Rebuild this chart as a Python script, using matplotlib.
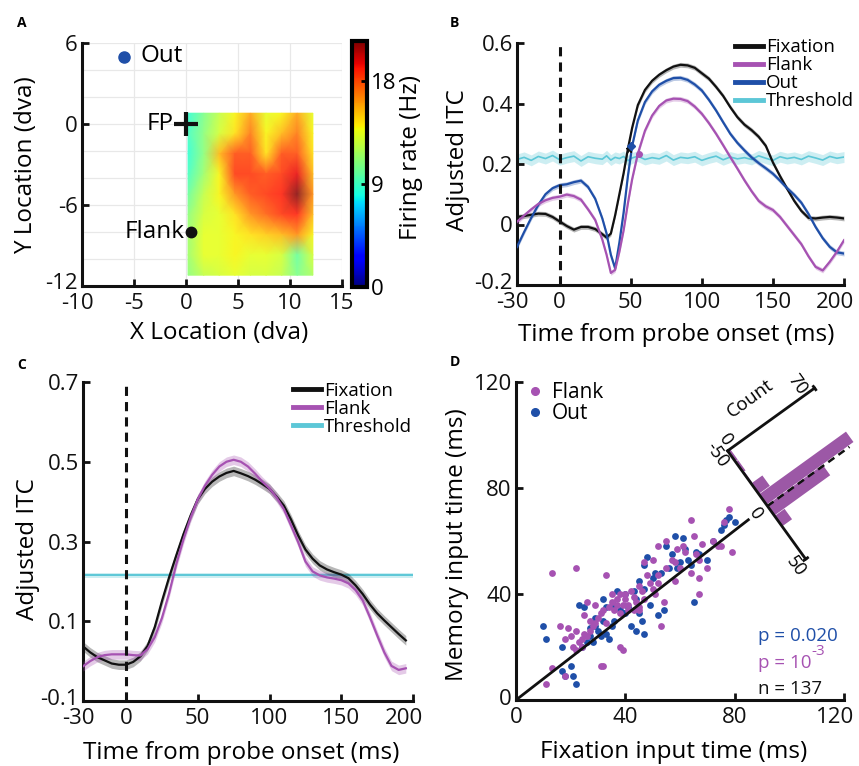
import numpy as np
import matplotlib.pyplot as plt
from matplotlib.cm import ScalarMappable
from matplotlib.colors import Normalize, ListedColormap
from matplotlib.lines import Line2D
from matplotlib.transforms import Affine2D, ScaledTranslation

plt.rcParams['font.family'] = ['Open Sans', 'DejaVu Sans']
plt.rcParams['axes.unicode_minus'] = False

BLACK = '#111111'
MAGENTA = '#A652B2'
BLUE = '#1F4FA8'
CYAN = '#5CC7D7'
HIST = '#9C58A6'

# ---- panel A: firing-rate map ----
heat_x = [0.2, 1.7, 3.2, 4.7, 6.2, 7.7, 9.2, 10.7, 12.2]
heat_y = [0.8, -0.7, -2.2, -3.7, -5.2, -6.7, -8.2, -9.7, -11.2]
firing_rate = [
    [8.5, 10.5, 12.5, 14.0, 16.0, 13.5, 14.0, 16.0, 13.5],
    [9.0, 11.0, 13.0, 14.5, 17.0, 14.0, 15.5, 17.0, 14.0],
    [8.5, 11.0, 15.5, 18.0, 18.0, 14.5, 18.0, 18.0, 14.5],
    [9.0, 11.5, 14.0, 18.5, 18.5, 18.0, 18.5, 19.5, 15.5],
    [10.0, 12.5, 14.0, 16.5, 18.0, 18.5, 19.0, 21.5, 16.5],
    [11.0, 13.0, 13.5, 14.5, 16.5, 17.5, 18.5, 19.0, 15.5],
    [11.5, 13.5, 13.5, 14.0, 14.5, 15.0, 15.5, 16.5, 14.0],
    [11.5, 13.5, 13.5, 14.0, 13.5, 13.5, 13.0, 10.0, 13.0],
    [11.0, 12.5, 13.0, 13.5, 13.0, 13.0, 12.5, 10.5, 12.0],
]
rate_max = 21.5
out_loc = (-6, 5)
fp_loc = (0, 0)
flank_loc = (0.5, -8)

# ---- panel B: adjusted ITC, one neuron ----
t_b = [-30, -25, -20, -15, -10, -5, 0, 5, 10, 15, 20, 25, 30,
       33, 36, 39, 42, 45, 48, 51, 55,
       60, 65, 70, 75, 80, 85, 90, 95, 100, 105, 110, 115, 120, 125, 130,
       135, 140, 145, 150, 155, 160, 165, 170, 175, 180, 185, 190, 195, 200]
itc_fix_b = [0.025, 0.028, 0.032, 0.036, 0.035, 0.025, 0.010, -0.005, -0.017, -0.008, -0.008, -0.015, -0.032,
             -0.043, -0.030, 0.030, 0.100, 0.170, 0.250, 0.320, 0.395,
             0.445, 0.475, 0.495, 0.510, 0.522, 0.528, 0.526, 0.518, 0.500, 0.482, 0.455, 0.425, 0.388, 0.355,
             0.330, 0.312, 0.290, 0.260, 0.205, 0.160, 0.118, 0.078, 0.045, 0.022, 0.020, 0.023, 0.025, 0.023, 0.020]
itc_flank_b = [0.009, 0.030, 0.050, 0.068, 0.080, 0.088, 0.092, 0.099, 0.094, 0.082, 0.050, 0.015, -0.050,
               -0.100, -0.160, -0.150, -0.090, -0.019, 0.070, 0.150, 0.234,
               0.310, 0.360, 0.392, 0.410, 0.416, 0.415, 0.408, 0.390, 0.366, 0.335, 0.300, 0.262, 0.223, 0.185,
               0.146, 0.110, 0.078, 0.060, 0.048, 0.025, -0.005, -0.035, -0.065, -0.105, -0.140, -0.152, -0.123, -0.090, -0.052]
itc_out_b = [-0.074, -0.025, 0.022, 0.065, 0.100, 0.120, 0.130, 0.133, 0.140, 0.145, 0.124, 0.085, 0.020,
             -0.030, -0.100, -0.145, -0.060, 0.040, 0.160, 0.260, 0.344,
             0.405, 0.440, 0.462, 0.475, 0.484, 0.485, 0.478, 0.463, 0.443, 0.412, 0.377, 0.338, 0.300, 0.270,
             0.245, 0.222, 0.203, 0.186, 0.168, 0.145, 0.120, 0.098, 0.072, 0.035, -0.008, -0.045, -0.074, -0.092, -0.096]
thresh_b = [0.215, 0.222, 0.212, 0.225, 0.218, 0.228, 0.214, 0.221, 0.226, 0.210, 0.224, 0.219, 0.216,
            0.227, 0.213, 0.222, 0.218, 0.225, 0.211, 0.220, 0.226,
            0.215, 0.221, 0.217, 0.228, 0.213, 0.222, 0.219, 0.224, 0.212, 0.220, 0.226, 0.214, 0.223, 0.217,
            0.221, 0.215, 0.227, 0.219, 0.212, 0.224, 0.218, 0.222, 0.215, 0.226, 0.220, 0.213, 0.225, 0.219, 0.223]
latency_b = {'fix': (49, 0.250), 'out': (50.5, 0.258), 'flank': (56, 0.232)}

# ---- panel C: population adjusted ITC ----
t_c = list(range(-30, 200, 5))
itc_fix_c = [0.037, 0.022, 0.010, 0.002, -0.006, -0.009, -0.009, -0.002, 0.012, 0.038,
             0.085, 0.150, 0.210, 0.265, 0.318, 0.365, 0.406, 0.432, 0.450, 0.463,
             0.472, 0.477, 0.471, 0.464, 0.455, 0.444, 0.432, 0.412, 0.390, 0.355,
             0.315, 0.280, 0.257, 0.240, 0.230, 0.223, 0.217, 0.208, 0.190, 0.168,
             0.142, 0.120, 0.102, 0.085, 0.068, 0.052]
itc_flank_c = [-0.013, 0.000, 0.010, 0.015, 0.017, 0.017, 0.017, 0.015, 0.014, 0.030,
               0.060, 0.108, 0.170, 0.243, 0.305, 0.360, 0.406, 0.440, 0.467, 0.488,
               0.500, 0.505, 0.500, 0.488, 0.470, 0.450, 0.433, 0.410, 0.381, 0.340,
               0.298, 0.250, 0.225, 0.215, 0.210, 0.207, 0.203, 0.195, 0.178, 0.152,
               0.110, 0.065, 0.022, -0.012, -0.022, -0.018]
thresh_c = 0.215

# ---- panel D: input times ----
flank_fix = [11, 13, 18, 16, 13, 22, 18, 21, 22, 20, 23, 25, 26, 27, 28, 25, 24, 26, 27, 29,
             30, 31, 32, 33, 33, 34, 35, 35, 36, 37, 37, 38, 38, 39, 39, 40, 40, 41, 41, 42,
             43, 43, 44, 45, 45, 46, 47, 47, 48, 49, 50, 50, 51, 52, 52, 53, 54, 55, 55, 57,
             58, 59, 60, 61, 62, 64, 65, 66, 67, 67, 67, 68, 70, 72, 74, 75, 76, 78, 79, 31,
             32, 38, 29, 24, 22, 19, 45, 52, 64, 58]
flank_mem = [6, 12, 9, 28, 48, 50, 23, 20, 26, 24, 22, 32, 37, 30, 28, 25, 23, 24, 26, 29,
             31, 33, 34, 47, 29, 35, 37, 40, 34, 36, 38, 40, 33, 36, 19, 40, 38, 34, 36, 41,
             39, 34, 37, 35, 43, 41, 38, 52, 47, 44, 42, 53, 40, 47, 58, 28, 37, 50, 60, 53,
             52, 57, 50, 58, 56, 68, 62, 55, 46, 40, 53, 59, 50, 60, 58, 58, 67, 72, 56, 13,
             13, 20, 36, 20, 19, 27, 34, 44, 48, 45]
out_fix = [10, 11, 17, 17, 18, 20, 21, 22, 23, 25, 24, 26, 27, 28, 29, 30, 31, 32, 32, 33,
           34, 35, 36, 37, 38, 39, 40, 41, 42, 43, 44, 45, 45, 46, 47, 47, 48, 49, 50, 51,
           52, 53, 54, 55, 56, 57, 58, 59, 60, 61, 62, 63, 64, 65, 66, 67, 70, 72, 75, 76,
           77, 78, 80, 44, 40, 36, 33, 29, 27, 47]
out_mem = [28, 23, 20, 11, 9, 13, 9, 6, 36, 35, 20, 22, 24, 22, 28, 26, 24, 38, 30, 25,
           23, 28, 30, 41, 34, 33, 40, 35, 28, 41, 38, 45, 33, 30, 42, 51, 54, 36, 46, 48,
           32, 48, 34, 58, 50, 55, 62, 50, 52, 61, 57, 53, 51, 37, 56, 55, 53, 60, 64, 66,
           68, 69, 67, 26, 33, 36, 35, 31, 27, 25]
fit_x = [0, 85]
fit_slope = 0.8
diff_centers = [-45, -35, -25, -15, -5, 5, 15]
diff_counts = [2, 2, 1, 9, 70, 45, 8]
diff_mean = 1
stats_text = [('p = 0.020', BLUE), ('n = 137', BLACK)]

FS = 17.5   # axis labels
TS = 16     # tick labels

W, H = 859, 766
fig = plt.figure(figsize=(W / 100, H / 100), dpi=100)


def box(l, t, r, b):
    return [l / W, 1 - b / H, (r - l) / W, (b - t) / H]


def style(ax):
    ax.spines[['top', 'right']].set_visible(False)
    for s in ('left', 'bottom'):
        ax.spines[s].set_linewidth(2.2)
        ax.spines[s].set_color(BLACK)
    ax.tick_params(direction='in', length=5, width=2, labelsize=TS, colors=BLACK)
    ax.tick_params(axis='x', pad=5)
    ax.tick_params(axis='y', pad=3)


def nudge(lab, dx, dy):
    lab.set_transform(lab.get_transform() + ScaledTranslation(dx / 100, dy / 100, fig.dpi_scale_trans))


def labels(ax, xl, yl, xc, yc):
    ax.set_xlabel(xl, fontsize=FS, va='center')
    ax.set_ylabel(yl, fontsize=FS, va='center')
    ax.xaxis.set_label_coords(*xc)
    ax.yaxis.set_label_coords(*yc)


# slightly washed-out jet for the map itself
light_jet = ListedColormap(0.86 * plt.get_cmap('jet')(np.linspace(0, 1, 256)) + 0.14)

# ---------- A ----------
ax_a = fig.add_axes(box(82, 43, 342, 286))
X, Y = np.meshgrid(heat_x, heat_y)
ax_a.pcolormesh(X, Y, np.array(firing_rate), shading='gouraud', cmap=light_jet,
                vmin=0, vmax=rate_max, zorder=2)
ax_a.set_xlim(-10, 15)
ax_a.set_ylim(-12, 6)
ax_a.set_xticks([-10, -5, 0, 5, 10, 15])
ax_a.set_yticks([-12, -6, 0, 6])
ax_a.set_yticks(np.arange(-12, 7, 2), minor=True)
ax_a.grid(True, which='both', color='#e8e8e8', lw=0.9, zorder=0)
ax_a.tick_params(which='minor', length=0)
style(ax_a)
nudge(ax_a.get_xticklabels()[0], -5, 0)
nudge(ax_a.get_yticklabels()[0], 0, 5)
ax_a.plot(*out_loc, 'o', color=BLUE, ms=8, zorder=3)
ax_a.text(out_loc[0] + 1.6, out_loc[1], 'Out', fontsize=FS, va='center', ha='left')
ax_a.plot(*fp_loc, '+', color=BLACK, ms=17, mew=3, zorder=3, clip_on=False)
ax_a.text(fp_loc[0] - 1.2, fp_loc[1], 'FP', fontsize=FS, va='center', ha='right')
ax_a.plot(*flank_loc, 'o', color=BLACK, ms=7.5, zorder=3)
ax_a.text(flank_loc[0] - 0.6, flank_loc[1], 'Flank', fontsize=FS, va='center', ha='right')
labels(ax_a, 'X Location (dva)', 'Y Location (dva)', (0.529, -0.193), (-0.215, 0.498))

cax = fig.add_axes(box(352, 41, 367, 287))
cb = fig.colorbar(ScalarMappable(Normalize(0, rate_max), 'jet'), cax=cax, ticks=[0, 9, 18])
cb.outline.set_linewidth(3)
cax.tick_params(direction='in', length=4, width=2, labelsize=TS, pad=3)
cb.set_label('Firing rate (Hz)', fontsize=FS, va='center')
cax.yaxis.set_label_coords(3.95, 0.526)

# ---------- B ----------
ax_b = fig.add_axes(box(517, 43, 844, 285))
tb = np.array(t_b)
ax_b.fill_between(tb, np.array(thresh_b) - 0.018, np.array(thresh_b) + 0.018,
                  color=CYAN, alpha=0.3, lw=0, zorder=1)
ax_b.plot(tb, thresh_b, color=CYAN, lw=1.2, zorder=2)
for vals, col in ((itc_fix_b, BLACK), (itc_out_b, BLUE), (itc_flank_b, MAGENTA)):
    v = np.array(vals)
    ax_b.fill_between(tb, v - 0.008, v + 0.008, color=col, alpha=0.3, lw=0, zorder=3)
    ax_b.plot(tb, v, color=col, lw=1.6, zorder=4)
ax_b.plot(*latency_b['fix'], '*', color=BLACK, ms=5, zorder=5)
ax_b.plot(*latency_b['out'], 'D', color=BLUE, ms=4, zorder=5)
ax_b.plot(*latency_b['flank'], 'o', color=MAGENTA, ms=4, zorder=5)
ax_b.axvline(0, color=BLACK, lw=2.2, ls=(0, (3, 2)), zorder=6)
ax_b.set_xlim(-30, 200)
ax_b.set_ylim(-0.2, 0.6)
ax_b.set_xticks([-30, 0, 50, 100, 150, 200])
ax_b.set_yticks([-0.2, 0, 0.2, 0.4, 0.6])
ax_b.set_yticklabels(['-0.2', '0', '0.2', '0.4', '0.6'])
style(ax_b)
nudge(ax_b.get_xticklabels()[0], -5, 0)
nudge(ax_b.get_xticklabels()[-1], -9, 0)
nudge(ax_b.get_yticklabels()[0], 0, 4)
labels(ax_b, 'Time from probe onset (ms)', 'Adjusted ITC', (0.486, -0.207), (-0.18, 0.517))
hb = [Line2D([], [], color=c, lw=3.5) for c in (BLACK, MAGENTA, BLUE, CYAN)]
ax_b.legend(hb, ['Fixation', 'Flank', 'Out', 'Threshold'], loc='upper left',
            bbox_to_anchor=(0.667, 1.02), frameon=False, fontsize=13.5, handlelength=1.5,
            handletextpad=0.15, labelspacing=0.0, borderpad=0, borderaxespad=0)

# ---------- C ----------
ax_c = fig.add_axes(box(83, 382, 413, 701))
tc = np.array(t_c)
ax_c.axhspan(thresh_c - 0.007, thresh_c + 0.007, color=CYAN, alpha=0.3, lw=0, zorder=1)
ax_c.axhline(thresh_c, color=CYAN, lw=1.4, zorder=2)
for vals, col, w in ((itc_fix_c, BLACK, 0.012), (itc_flank_c, MAGENTA, 0.012)):
    v = np.array(vals)
    ax_c.fill_between(tc, v - w, v + w, color=col, alpha=0.3, lw=0, zorder=3)
    ax_c.plot(tc, v, color=col, lw=1.6, zorder=4)
ax_c.axvline(0, color=BLACK, lw=2.2, ls=(0, (3, 2)), zorder=6)
ax_c.set_xlim(-30, 200)
ax_c.set_ylim(-0.1, 0.7)
ax_c.set_xticks([-30, 0, 50, 100, 150, 200])
ax_c.set_yticks([-0.1, 0.1, 0.3, 0.5, 0.7])
ax_c.set_yticklabels(['-0.1', '0.1', '0.3', '0.5', '0.7'])
style(ax_c)
nudge(ax_c.get_xticklabels()[0], -5, 0)
nudge(ax_c.get_xticklabels()[-1], -9, 0)
nudge(ax_c.get_yticklabels()[0], 0, 4)
labels(ax_c, 'Time from probe onset (ms)', 'Adjusted ITC', (0.479, -0.163), (-0.167, 0.475))
hc = [Line2D([], [], color=c, lw=3.5) for c in (BLACK, MAGENTA, CYAN)]
ax_c.legend(hc, ['Fixation', 'Flank', 'Threshold'], loc='upper left',
            bbox_to_anchor=(0.636, 1.0), frameon=False, fontsize=13.5, handlelength=1.5,
            handletextpad=0.15, labelspacing=0.0, borderpad=0, borderaxespad=0)

# ---------- D ----------
ax_d = fig.add_axes(box(516, 382, 844, 700))
ax_d.scatter(out_fix, out_mem, s=24, color=BLUE, lw=0, zorder=3)
ax_d.scatter(flank_fix, flank_mem, s=24, color=MAGENTA, lw=0, zorder=3)
ax_d.plot(fit_x, [fit_slope * x for x in fit_x], color=BLACK, lw=2, zorder=4)
ax_d.set_xlim(0, 120)
ax_d.set_ylim(0, 120)
ax_d.set_xticks([0, 40, 80, 120])
ax_d.set_yticks([0, 40, 80, 120])
style(ax_d)
nudge(ax_d.get_xticklabels()[-1], -9, 0)
nudge(ax_d.get_yticklabels()[0], 0, 3)
labels(ax_d, 'Fixation input time (ms)', 'Memory input time (ms)', (0.48, -0.164), (-0.18, 0.49))
hd = [Line2D([], [], ls='', marker='o', ms=5.5, color=c) for c in (MAGENTA, BLUE)]
ax_d.legend(hd, ['Flank', 'Out'], loc='upper left', bbox_to_anchor=(0.04, 1.0), frameon=False,
            fontsize=15, handlelength=0.6, handletextpad=0.5, labelspacing=0.0,
            borderpad=0, borderaxespad=0)
ax_d.text(88.5, 24, stats_text[0][0], color=stats_text[0][1], fontsize=13.5, va='center')
pt = ax_d.text(88.5, 14, 'p = 10', color=MAGENTA, fontsize=13.5, va='center')
ax_d.annotate('-3', xy=(1.0, 0.7), xycoords=pt, color=MAGENTA, fontsize=11, va='bottom')
ax_d.text(88.5, 4, stats_text[1][0], color=stats_text[1][1], fontsize=13.5, va='center')

# rotated histogram of input-time differences
tr = (Affine2D().scale(0.01335, 0.01532).rotate_deg(-54.2) + fig.dpi_scale_trans
      + ScaledTranslation(91.7, 73.6, ax_d.transData))
ax_d.bar(diff_centers, diff_counts, width=9.6, color=HIST, lw=0, transform=tr,
         clip_on=False, zorder=5)
ax_d.plot([diff_mean, diff_mean], [0, 66], color=BLACK, lw=1.8, ls=(0, (3, 2)),
          transform=tr, clip_on=False, zorder=6)
ax_d.plot([-50, 50], [0, 0], color=BLACK, lw=2, transform=tr, clip_on=False, zorder=6)
ax_d.plot([-50, -50], [0, 70], color=BLACK, lw=2, transform=tr, clip_on=False, zorder=6)
ax_d.plot([50, 50], [-1.5, 1.5], color=BLACK, lw=2, transform=tr, clip_on=False, zorder=6)
ax_d.plot([-51.5, -48.5], [70, 70], color=BLACK, lw=2, transform=tr, clip_on=False, zorder=6)
for u, c, s in ((-52, -7, '-50'), (0, -9, '0'), (50, -8, '50'), (-58, 3, '0'), (-60, 62, '70')):
    ax_d.text(u, c, s, transform=tr, rotation=-54.2, rotation_mode='anchor',
              ha='center', va='center', fontsize=13, clip_on=False)
ax_d.text(-72, 32, 'Count', transform=tr, rotation=35.8, rotation_mode='anchor',
          ha='center', va='center', fontsize=13.5, clip_on=False)
ax_d.set_xlim(0, 120)
ax_d.set_ylim(0, 120)

for s, x, y in (('A', 22, 23), ('B', 454, 23), ('C', 22, 365), ('D', 455, 362)):
    fig.text(x / W, 1 - y / H, s, fontsize=10, fontweight='bold', ha='center', va='center')

fig.savefig('out.png', dpi=100)
